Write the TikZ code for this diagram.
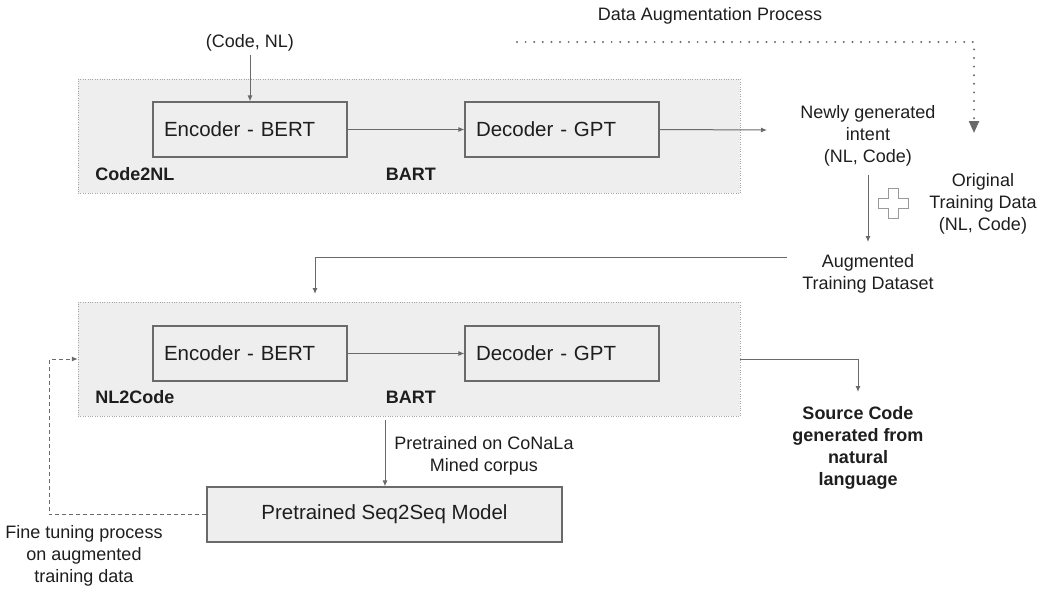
\documentclass[tikz,border=0pt]{standalone}
\usepackage{fontspec}
\setmainfont{Liberation Sans}
\usetikzlibrary{arrows.meta,positioning}
\definecolor{panel}{HTML}{EEEEEE}
\definecolor{edge}{HTML}{6A6A6A}
\definecolor{ink}{HTML}{1E1E1E}
\tikzset{
    group-box/.style = {draw=gray!70, dotted, fill=panel, minimum width=662pt, minimum height=114pt, inner sep=0pt},
    model-box/.style = {draw=edge, fill=panel, line width=1.1pt, minimum width=194pt, minimum height=55pt, font=\fontsize{20.5}{24}\selectfont, text=ink},
    coder-box/.style = {model-box, text width=172pt, align=left},
    group-title/.style = {font=\fontsize{18}{22}\selectfont\bfseries, text=ink},
    note/.style = {font=\fontsize{18}{22}\selectfont, text=ink, align=center},
    flow/.style = {draw=edge, line width=1pt, -{Latex[length=6pt,width=5pt]}},
    tune-flow/.style = {flow, dash pattern=on 4pt off 3pt},
    aug-flow/.style = {draw=edge, line width=2.2pt, line cap=round, dash pattern=on 0pt off 8.6pt, -{Triangle[length=12pt,width=10pt]}},
}

\begin{document}
\begin{tikzpicture}[x=1pt, y=-1pt]
\useasboundingbox (0,0) rectangle (1045,589);

\node[group-box] (top) at (409,136) {};
\node[coder-box] (enc-top) at (250,129.5) {Encoder - BERT};
\node[coder-box] (dec-top) at (562,129.5) {Decoder - GPT};
\node[group-title, right=14pt] (top-name) at ([yshift=19pt]top.south west) {Code2NL};
\node[group-title] (top-bart) at ([xshift=333pt, yshift=19pt]top.south west) {BART};

\node[note] (code-nl) at (250,43) {(Code, NL)};
\node[note] (aug-title) at (710,16) {Data Augmentation Process};
\node[note] (new-intent) at (868,136) {Newly generated\\intent\\(NL, Code)};
\node[note] (orig-data) at (983,204) {Original\\Training Data\\(NL, Code)};
\node[note] (aug-set) at (868,274) {Augmented\\Training Dataset};
\draw[draw=gray!80, fill=white, line width=1pt] (893,203) ++(-15,-5) -- ++(10,0) -- ++(0,-10) -- ++(10,0) -- ++(0,10) -- ++(10,0) -- ++(0,10) -- ++(-10,0) -- ++(0,10) -- ++(-10,0) -- ++(0,-10) -- ++(-10,0) -- cycle;

\node[group-box] (bottom) at (409,359) {};
\node[coder-box] (enc-bottom) at (250,353.5) {Encoder - BERT};
\node[coder-box] (dec-bottom) at (562,353.5) {Decoder - GPT};
\node[group-title, right=14pt] (bottom-name) at ([yshift=19pt]bottom.south west) {NL2Code};
\node[group-title] (bottom-bart) at ([xshift=333pt, yshift=19pt]bottom.south west) {BART};

\node[note, font=\fontsize{18}{22}\selectfont\bfseries] (source-code) at (858,448) {Source Code\\generated from\\natural\\language};
\node[note] (pretrain-note) at (484,456) {Pretrained on CoNaLa\\Mined corpus};
\node[model-box, minimum width=355pt] (seq-model) at (384.5,514.5) {Pretrained Seq2Seq Model};
\node[note] (fine-tune) at (84,556) {Fine tuning process\\on augmented\\training data};

\coordinate (aug-start) at (517,42);
\coordinate (aug-end) at (974,133);
\coordinate (intent-in) at (767,130);
\coordinate (aug-out) at (787,257);
\coordinate (bottom-in) at (315,294);
\coordinate (code-out) at (858,392);
\coordinate (pre-start) at (385,420);

\draw[flow] (code-nl) -- (enc-top);
\draw[flow] (enc-top) -- (dec-top);
\draw[flow] (dec-top.east) -- (intent-in);
\draw[aug-flow] (aug-start) -| (aug-end);
\draw[flow, shorten <=5pt, shorten >=9pt] (new-intent) -- (aug-set);
\draw[flow] (aug-out) -| (bottom-in);
\draw[flow] (enc-bottom) -- (dec-bottom);
\draw[flow] (bottom.east) -| (code-out);
\draw[flow] (pre-start) -- (pre-start |- seq-model.north);
\draw[tune-flow] (seq-model.west) -- ++(-157,0) |- (bottom.west);
\end{tikzpicture}
\end{document}
